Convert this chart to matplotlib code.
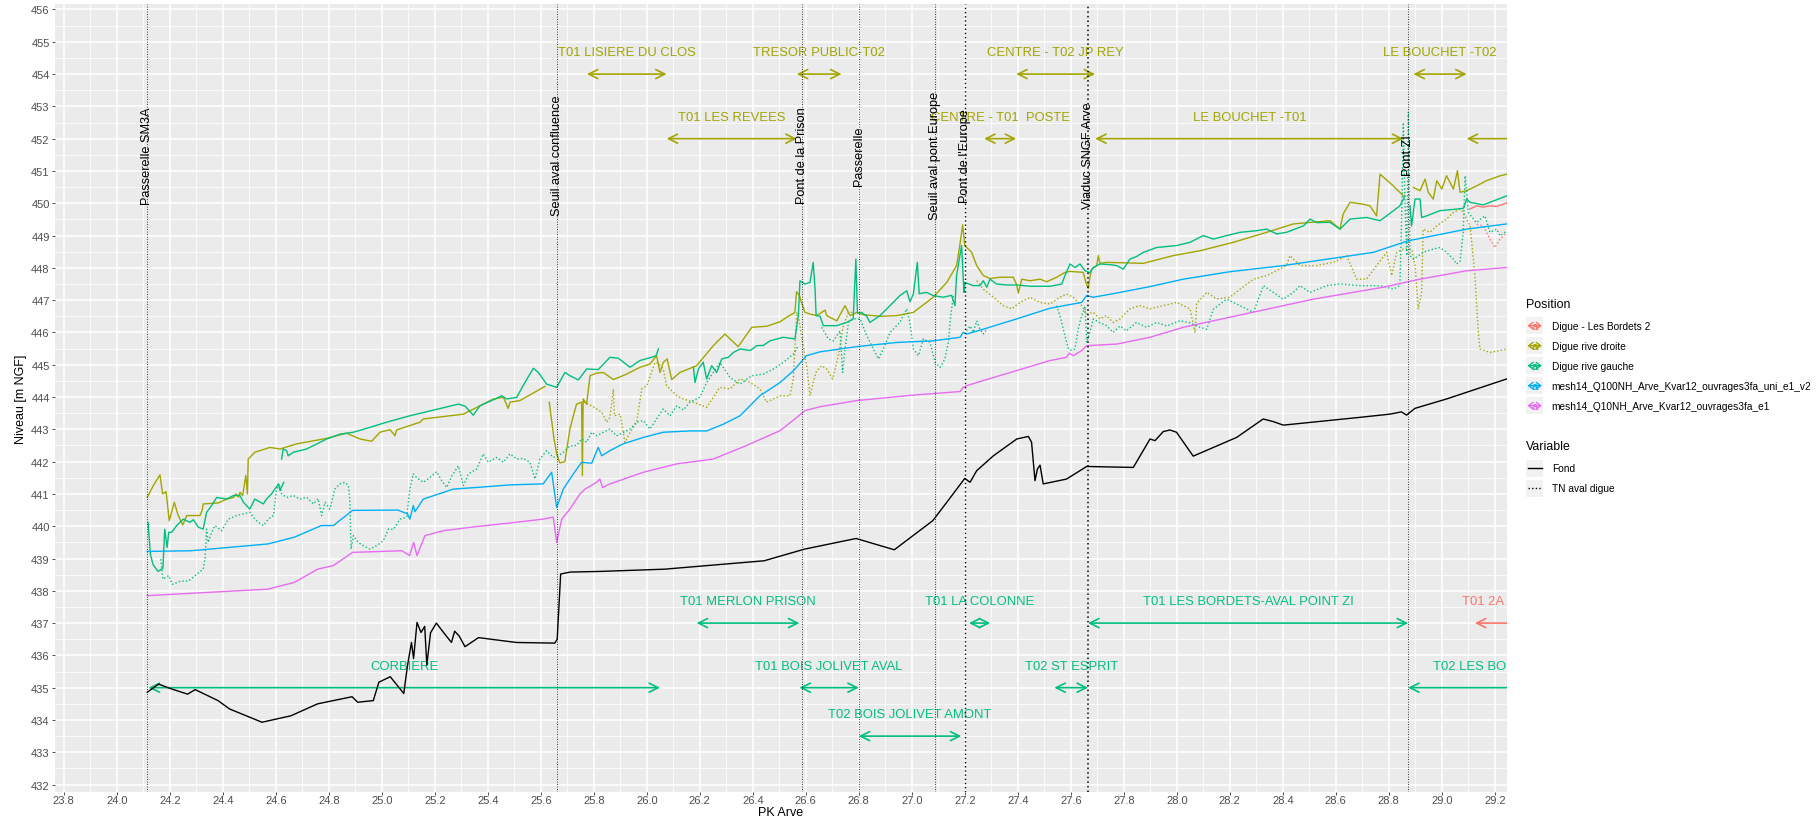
import numpy as np
import matplotlib
matplotlib.use('Agg')
import matplotlib.pyplot as plt
from matplotlib.patches import FancyArrowPatch, Rectangle

plt.rcParams['font.family'] = ['Liberation Sans', 'DejaVu Sans']

RED, OLIVE, GREEN, BLUE, PINK = '#F8766D', '#A3A500', '#00BF7D', '#00B0F6', '#E76BF3'
NA = (None, None)

# ---- profils en long (PK, niveau) ----
fond = [(24.115, 434.86), (24.158, 435.11), (24.2, 434.98), (24.267, 434.8), (24.296, 434.94),
        (24.382, 434.6), (24.426, 434.34), (24.548, 433.93), (24.657, 434.13), (24.758, 434.5),
        (24.888, 434.72), (24.909, 434.55), (24.968, 434.6), (24.989, 435.17), (25.032, 435.34),
        (25.083, 434.82), (25.097, 435.68), (25.112, 436.4), (25.12, 435.9), (25.133, 437.02),
        (25.148, 436.71), (25.162, 436.9), (25.170, 435.7), (25.184, 436.7), (25.206, 437.0),
        (25.234, 436.7), (25.263, 436.4), (25.275, 436.75), (25.292, 436.6), (25.314, 436.27),
        (25.365, 436.55), (25.508, 436.4), (25.653, 436.38), (25.662, 436.5), (25.675, 438.52),
        (25.711, 438.58), (25.823, 438.6), (26.068, 438.67), (26.443, 438.93), (26.595, 439.29),
        (26.79, 439.62), (26.934, 439.27), (27.079, 440.17), (27.132, 440.74), (27.2, 441.48),
        (27.22, 441.36), (27.245, 441.72), (27.308, 442.18), (27.396, 442.7), (27.44, 442.78),
        (27.452, 442.6), (27.465, 441.41), (27.474, 441.77), (27.484, 441.89), (27.496, 441.31),
        (27.584, 441.46), (27.66, 441.85), (27.836, 441.82), (27.899, 442.7), (27.918, 442.65),
        (27.949, 442.93), (27.974, 442.98), (27.999, 442.91), (28.062, 442.17), (28.226, 442.75),
        (28.326, 443.32), (28.364, 443.24), (28.402, 443.13), (28.69, 443.37), (28.804, 443.47),
        (28.848, 443.54), (28.867, 443.44), (28.899, 443.65), (29.018, 443.94), (29.245, 444.56)]

q100 = [(24.115, 439.22), (24.28, 439.24), (24.57, 439.45), (24.67, 439.66), (24.772, 440.02),
        (24.817, 440.02), (24.89, 440.49), (25.061, 440.5), (25.097, 440.38), (25.106, 440.22),
        (25.119, 440.64), (25.125, 440.45), (25.157, 440.84), (25.27, 441.15), (25.358, 441.2),
        (25.484, 441.28), (25.609, 441.31), (25.641, 441.67), (25.66, 440.58), (25.685, 441.15),
        (25.723, 441.62), (25.754, 441.98), (25.792, 441.95), (25.817, 442.44), (25.83, 442.18),
        (25.861, 442.34), (25.911, 442.55), (25.987, 442.75), (26.062, 442.91), (26.163, 442.95),
        (26.226, 442.95), (26.289, 443.16), (26.352, 443.42), (26.427, 444.04), (26.503, 444.45),
        (26.553, 444.81), (26.603, 445.28), (26.654, 445.4), (26.792, 445.56), (26.943, 445.69),
        (27.081, 445.74), (27.182, 445.85), (27.194, 446.0), (27.207, 445.95), (27.27, 446.1),
        (27.396, 446.42), (27.522, 446.75), (27.641, 446.93), (27.66, 447.14), (27.685, 447.09),
        (27.773, 447.22), (27.899, 447.42), (28.025, 447.65), (28.2, 447.88), (28.402, 448.07),
        (28.742, 448.48), (28.874, 448.84), (29.094, 449.2), (29.245, 449.36)]

q10 = [(24.115, 437.85), (24.57, 438.05), (24.67, 438.26), (24.758, 438.67), (24.817, 438.78),
       (24.89, 439.19), (25.076, 439.24), (25.105, 439.09), (25.12, 439.5), (25.133, 439.09),
       (25.163, 439.71), (25.232, 439.86), (25.358, 439.99), (25.484, 440.1), (25.609, 440.22),
       (25.647, 440.28), (25.66, 439.5), (25.679, 440.22), (25.71, 440.53), (25.748, 441.0),
       (25.767, 441.15), (25.811, 441.36), (25.823, 441.46), (25.833, 441.2), (25.861, 441.31),
       (25.987, 441.67), (26.113, 441.93), (26.251, 442.08), (26.377, 442.5), (26.503, 442.96),
       (26.559, 443.32), (26.597, 443.58), (26.654, 443.7), (26.792, 443.89), (27.006, 444.06),
       (27.182, 444.17), (27.194, 444.3), (27.207, 444.35), (27.27, 444.51), (27.396, 444.82),
       (27.522, 445.13), (27.584, 445.23), (27.594, 445.36), (27.61, 445.28), (27.641, 445.44),
       (27.66, 445.59), (27.773, 445.64), (27.899, 445.85), (28.025, 446.16), (28.2, 446.47),
       (28.515, 447.03), (28.779, 447.4), (28.918, 447.65), (29.094, 447.91), (29.245, 448.01)]

rd_crete = [(24.115, 440.89), (24.138, 441.26), (24.163, 441.59), (24.173, 441.0), (24.186, 441.07),
            (24.198, 440.17), (24.217, 440.74), (24.232, 440.33), (24.249, 440.04), (24.264, 440.33),
            (24.314, 440.33), (24.323, 440.51), (24.326, 440.69), (24.383, 440.72), (24.415, 440.84),
            (24.44, 440.89), (24.45, 441.0), (24.46, 440.9), (24.465, 441.05), (24.475, 440.95),
            (24.487, 441.57), (24.493, 441.0), (24.496, 442.08), (24.521, 442.29), (24.578, 442.44),
            (24.616, 442.39), (24.679, 442.55), (24.792, 442.72), (24.867, 442.88), (24.918, 442.7),
            (24.962, 442.63), (24.993, 442.91), (25.031, 442.99), (25.05, 442.8), (25.056, 442.98),
            (25.144, 443.22), (25.157, 443.32), (25.308, 443.47), (25.421, 443.94), (25.459, 443.99),
            (25.477, 443.65), (25.484, 443.84), (25.521, 443.89), (25.616, 444.33), NA,
            (25.632, 443.84), (25.65, 442.7), (25.66, 442.24), (25.672, 441.96), (25.691, 442.0),
            (25.71, 443.01), (25.723, 443.42), (25.735, 443.78), (25.754, 443.84), (25.757, 441.57),
            (25.76, 443.94), (25.773, 443.78), (25.786, 444.66), (25.811, 444.74), (25.836, 444.76),
            (25.874, 444.54), (25.924, 444.71), (25.974, 444.92), (26.012, 445.02), (26.037, 445.28),
            (26.05, 444.76), (26.062, 445.07), (26.077, 445.18), (26.094, 444.54), (26.125, 444.76),
            (26.188, 444.97), (26.251, 445.59), (26.295, 445.95), (26.345, 445.56), (26.396, 446.16),
            (26.452, 446.19), (26.503, 446.33), (26.528, 446.47), (26.559, 446.62), (26.565, 447.26),
            (26.576, 447.14), (26.584, 446.93), (26.597, 446.62), (26.616, 446.57), (26.641, 446.52),
            (26.673, 446.69), (26.679, 446.52), (26.717, 446.36), (26.748, 446.83), (26.767, 446.52),
            (26.792, 446.62), (26.817, 446.55), (26.88, 446.5), (26.943, 446.52), (27.006, 446.62),
            (27.081, 447.09), (27.132, 447.55), (27.169, 448.07), (27.18, 448.63), (27.192, 449.33),
            (27.2, 448.69), (27.226, 448.48), (27.245, 448.07), (27.27, 447.76), (27.295, 447.67),
            (27.333, 447.71), (27.383, 447.71), (27.396, 447.47), (27.402, 447.22), (27.415, 447.65),
            (27.446, 447.6), (27.484, 447.65), (27.509, 447.57), (27.547, 447.71), (27.578, 447.86),
            (27.597, 447.89), (27.647, 447.86), (27.657, 447.55), (27.666, 447.36), (27.672, 447.7),
            (27.679, 447.96), (27.698, 448.07), (27.704, 448.38), (27.71, 448.14), (27.735, 448.17),
            (27.874, 448.14), (27.987, 448.38), (28.088, 448.53), (28.213, 448.79), (28.339, 449.1),
            (28.44, 449.36), (28.578, 449.46), (28.616, 449.2), (28.628, 449.67), (28.654, 450.03),
            (28.704, 449.97), (28.729, 449.92), (28.754, 449.61), (28.767, 450.9), (28.817, 450.54),
            (28.855, 450.23), NA,
            (28.893, 450.49), (28.918, 450.39), (28.937, 450.75), (28.949, 450.34), (28.968, 450.13),
            (28.981, 450.7), (29.0, 450.44), (29.018, 450.85), (29.044, 450.44), (29.059, 451.01),
            (29.069, 450.34), (29.094, 450.39), (29.132, 450.54), (29.169, 450.7), (29.22, 450.85),
            (29.245, 450.9)]

rd_tn = [(25.761, 443.84), (25.792, 443.73), (25.811, 443.63), (25.83, 443.53), (25.849, 443.22),
         (25.861, 443.37), (25.874, 444.25), (25.878, 443.42), (25.899, 443.47), (25.918, 442.6),
         (25.937, 442.91), (25.962, 443.22), (25.981, 444.25), (26.0, 444.35), (26.031, 445.07),
         (26.043, 445.05), (26.062, 444.87), (26.075, 444.35), (26.113, 444.04), (26.138, 443.94),
         (26.176, 443.84), (26.226, 443.68), (26.276, 444.3), (26.314, 444.25), (26.352, 444.56),
         (26.39, 444.45), (26.427, 444.25), (26.452, 443.84), (26.503, 444.04), (26.54, 444.04),
         (26.553, 444.56), (26.566, 446.62), (26.572, 446.5), (26.584, 445.9), (26.603, 444.97),
         (26.616, 444.04), (26.628, 444.45), (26.641, 444.81), (26.66, 444.97), (26.679, 444.87),
         (26.701, 444.56), (26.723, 445.28), (26.742, 446.21), (26.761, 446.62), (26.779, 446.62), NA,
         (27.245, 447.6), (27.27, 447.34), (27.308, 447.09), (27.345, 446.83), (27.377, 446.73),
         (27.408, 446.93), (27.446, 447.09), (27.484, 446.93), (27.522, 446.88), (27.559, 447.09),
         (27.584, 447.19), (27.609, 447.09), (27.641, 446.83), (27.66, 446.57), (27.685, 446.62),
         (27.71, 446.42), (27.735, 446.52), (27.76, 446.31), (27.786, 446.42), (27.823, 446.73),
         (27.861, 446.83), (27.899, 446.73), (27.949, 446.83), (27.999, 446.93), (28.05, 446.73),
         (28.069, 446.0), (28.075, 446.9), (28.113, 447.24), (28.15, 447.04), (28.2, 447.09),
         (28.239, 447.34), (28.289, 447.65), (28.339, 447.76), (28.414, 448.07), (28.427, 448.38),
         (28.465, 448.07), (28.528, 448.07), (28.591, 448.17), (28.641, 448.38), (28.679, 447.65),
         (28.716, 447.65), (28.754, 448.07), (28.792, 448.48), (28.811, 447.76), (28.83, 448.48),
         (28.855, 448.58), (28.886, 448.58), (28.899, 448.1), (28.911, 446.72), (28.924, 447.24),
         (28.93, 449.2), (28.955, 449.1), (28.981, 449.3), (29.018, 449.51), (29.044, 449.72),
         (29.069, 449.82), (29.081, 449.72), (29.107, 449.3), (29.125, 447.76), (29.138, 446.0),
         (29.144, 445.49), (29.182, 445.38), (29.22, 445.44), (29.245, 445.49)]

rg_crete = [(24.118, 440.12), (24.127, 439.12), (24.137, 438.81), (24.156, 438.6), (24.174, 438.7),
            (24.181, 439.91), (24.19, 439.34), (24.196, 439.81), (24.207, 439.81), (24.226, 440.02),
            (24.251, 440.22), (24.276, 440.12), (24.289, 440.2), (24.308, 439.97), (24.326, 439.91),
            (24.339, 440.43), (24.358, 440.64), (24.377, 440.89), (24.415, 440.84), (24.44, 440.95),
            (24.465, 440.95), (24.478, 440.74), (24.502, 440.53), (24.521, 440.84), (24.553, 440.69),
            (24.565, 440.84), (24.584, 441.0), (24.61, 441.31), (24.616, 441.1), (24.63, 441.36), NA,
            (24.622, 442.08), (24.628, 442.39), (24.641, 442.34), (24.647, 442.18), (24.666, 442.29),
            (24.716, 442.39), (24.792, 442.7), (24.842, 442.85), (24.893, 442.91), (24.955, 443.06),
            (25.018, 443.22), (25.106, 443.42), (25.289, 443.78), (25.314, 443.72), (25.345, 443.44),
            (25.371, 443.73), (25.433, 443.96), (25.452, 444.04), (25.471, 443.94), (25.509, 443.99),
            (25.54, 444.45), (25.572, 444.89), (25.591, 444.76), (25.622, 444.4), (25.66, 444.3),
            (25.691, 444.76), (25.71, 444.66), (25.742, 444.53), (25.773, 444.87), (25.817, 444.85),
            (25.861, 445.23), (25.893, 445.2), (25.937, 444.92), (25.974, 445.13), (26.018, 445.23),
            (26.035, 445.28), (26.044, 445.49), NA,
            (26.176, 444.92), (26.182, 444.45), (26.195, 444.87), (26.213, 445.08), (26.226, 444.56),
            (26.245, 444.97), (26.264, 444.76), (26.283, 445.18), (26.308, 445.23), (26.327, 445.38),
            (26.352, 445.49), (26.39, 445.44), (26.415, 445.59), (26.44, 445.6), (26.465, 445.74),
            (26.515, 445.85), (26.559, 445.8), (26.572, 446.52), (26.578, 447.6), (26.597, 447.5),
            (26.616, 447.55), (26.628, 448.17), (26.635, 447.34), (26.639, 446.52), (26.654, 446.5),
            (26.666, 446.21), (26.717, 446.21), (26.754, 446.31), (26.779, 446.42), (26.789, 448.27),
            (26.795, 446.6), (26.81, 446.62), (26.83, 446.5), (26.842, 446.31), (26.88, 446.52),
            (26.918, 446.83), (26.955, 447.14), (26.981, 447.29), (26.993, 446.95), (27.006, 447.19),
            (27.021, 448.17), (27.028, 447.2), (27.056, 447.24), (27.081, 447.14), (27.119, 447.09),
            (27.15, 447.15), (27.163, 446.83), (27.169, 447.76), (27.188, 448.69), (27.197, 447.24),
            (27.2, 447.55), (27.232, 447.45), (27.257, 447.45), (27.27, 447.6), (27.283, 447.4),
            (27.295, 447.65), (27.32, 447.5), (27.358, 447.47), (27.396, 447.47), (27.446, 447.43),
            (27.522, 447.43), (27.566, 447.5), (27.578, 447.76), (27.597, 448.12), (27.616, 448.01),
            (27.635, 448.12), (27.654, 447.91), (27.672, 447.85), (27.685, 448.01), (27.71, 448.12),
            (27.748, 448.1), (27.773, 448.07), (27.798, 447.96), (27.823, 448.27), (27.848, 448.35),
            (27.874, 448.48), (27.924, 448.63), (27.999, 448.69), (28.05, 448.79), (28.1, 449.0),
            (28.138, 448.89), (28.188, 449.0), (28.239, 449.1), (28.301, 449.15), (28.339, 449.2),
            (28.377, 449.05), (28.414, 449.1), (28.478, 449.3), (28.503, 449.51), (28.528, 449.4),
            (28.578, 449.41), (28.616, 449.2), (28.654, 449.51), (28.716, 449.56), (28.767, 449.46),
            (28.792, 449.61), (28.842, 449.92), (28.861, 450.23), NA,
            (28.88, 449.92), (28.886, 449.3), (28.899, 450.13), (28.918, 450.13), (28.924, 449.56),
            (28.943, 449.61), (28.993, 449.77), (29.081, 449.84), (29.094, 450.13), (29.107, 450.03),
            (29.157, 449.95), (29.22, 450.15), (29.245, 450.23)]

rg_tn = [(24.166, 438.98), (24.174, 438.36), (24.196, 438.47), (24.21, 438.2), (24.24, 438.3),
         (24.27, 438.3), (24.3, 438.5), (24.326, 438.67), (24.333, 438.99), (24.339, 439.91),
         (24.345, 439.5), (24.358, 439.81), (24.37, 440.02), (24.396, 439.86), (24.421, 440.22),
         (24.452, 440.33), (24.502, 440.43), (24.515, 440.28), (24.534, 440.12), (24.553, 440.02),
         (24.572, 440.22), (24.591, 440.33), (24.603, 441.15), (24.613, 441.31), (24.622, 441.0),
         (24.641, 440.89), (24.666, 440.95), (24.691, 440.84), (24.716, 440.9), (24.742, 440.69),
         (24.76, 440.85), (24.773, 440.33), (24.786, 440.74), (24.804, 440.53), (24.823, 441.15),
         (24.842, 441.31), (24.861, 441.36), (24.874, 441.26), (24.88, 440.74), (24.884, 439.29),
         (24.893, 439.71), (24.911, 439.5), (24.93, 439.4), (24.955, 439.29), (24.981, 439.4),
         (25.006, 439.55), (25.025, 439.91), (25.044, 439.9), (25.069, 440.22), (25.094, 440.28),
         (25.106, 441.15), (25.119, 441.62), (25.132, 441.5), (25.157, 441.36), (25.182, 441.51),
         (25.207, 441.69), (25.226, 441.41), (25.245, 441.2), (25.264, 441.55), (25.289, 441.87),
         (25.308, 441.26), (25.327, 441.62), (25.358, 441.77), (25.383, 442.24), (25.402, 441.98),
         (25.433, 442.13), (25.459, 441.98), (25.484, 442.24), (25.509, 442.08), (25.534, 442.1),
         (25.559, 441.98), (25.578, 441.46), (25.597, 442.08), (25.622, 442.34), (25.647, 442.13),
         (25.666, 442.18), (25.685, 442.29), (25.71, 442.49), (25.735, 442.5), (25.754, 442.7),
         (25.773, 442.6), (25.792, 442.91), (25.811, 442.8), (25.836, 442.91), (25.861, 443.01),
         (25.886, 442.8), (25.911, 442.9), (25.937, 443.01), (25.962, 443.22), (25.987, 443.27),
         (26.012, 443.01), (26.037, 443.32), (26.062, 443.63), (26.088, 443.42), (26.113, 443.73),
         (26.138, 443.6), (26.163, 443.84), (26.2, 443.99), (26.226, 444.45), (26.276, 445.07),
         (26.314, 444.61), (26.352, 444.4), (26.396, 444.66), (26.44, 444.71), (26.478, 444.87),
         (26.515, 445.07), (26.553, 445.33), (26.572, 445.59), NA,
         (26.66, 446.16), (26.685, 445.8), (26.704, 445.74), (26.729, 446.05), (26.739, 444.76),
         (26.748, 445.49), (26.761, 446.31), (26.779, 446.42), (26.805, 446.42), (26.83, 445.9),
         (26.855, 445.49), (26.874, 445.18), (26.893, 445.49), (26.918, 446.0), (26.955, 446.31),
         (26.981, 446.73), (26.993, 446.31), (27.006, 445.49), (27.025, 445.28), (27.044, 445.8),
         (27.069, 445.69), (27.088, 445.07), (27.107, 444.92), (27.125, 445.18), (27.138, 445.69),
         (27.147, 446.52), (27.157, 447.14), NA,
         (27.207, 446.05), (27.22, 446.2), (27.232, 446.0), (27.245, 446.36), (27.257, 446.1),
         (27.27, 445.95), (27.283, 446.1), NA,
         (27.547, 446.83), (27.559, 446.52), (27.578, 445.9), (27.591, 445.49), (27.603, 445.45),
         (27.616, 445.49), (27.628, 446.1), (27.641, 446.52), (27.654, 446.8), (27.66, 445.69),
         (27.672, 446.0), (27.685, 446.42), (27.71, 446.3), (27.735, 446.21), (27.76, 446.0),
         (27.786, 446.2), (27.81, 446.05), (27.848, 446.31), (27.886, 446.16), (27.924, 446.31),
         (27.962, 446.2), (28.012, 446.36), (28.05, 446.3), (28.088, 446.16), (28.113, 446.1),
         (28.125, 446.4), (28.138, 446.72), (28.188, 447.03), (28.239, 446.83), (28.289, 446.62),
         (28.327, 447.45), (28.364, 447.24), (28.402, 447.03), (28.44, 447.24), (28.465, 447.45),
         (28.503, 447.24), (28.566, 447.45), (28.616, 447.5), (28.691, 447.45), (28.767, 447.45),
         (28.817, 447.34), (28.842, 447.45), (28.849, 449.72), (28.855, 452.5), (28.861, 450.0),
         (28.868, 448.38), (28.874, 452.81), (28.88, 448.38), (28.893, 448.27), (28.93, 448.48),
         (28.968, 448.58), (28.993, 448.63), (29.018, 448.48), (29.044, 448.27), (29.056, 448.12),
         (29.069, 448.2), (29.081, 449.1), (29.088, 450.85), (29.094, 450.34), (29.1, 449.72),
         (29.13, 449.4), (29.163, 449.61), (29.182, 449.1), (29.207, 449.2), (29.22, 448.99),
         (29.245, 449.15)]

bordets_crete = [(29.106, 449.82), (29.132, 449.92), (29.156, 449.88), (29.182, 449.92),
                 (29.206, 449.9), (29.245, 450.01)]
bordets_tn = [(29.132, 449.35), (29.157, 449.3), (29.182, 448.89), (29.2, 448.63),
              (29.22, 448.89), (29.245, 449.1)]

# ---- ouvrages (lignes verticales) ----
ouvrage_pk = [24.115, 25.663, 26.585, 26.8, 27.089, 27.2, 27.665, 28.874]
ouvrage_nom = ['Passerelle SM3A', 'Seuil aval confluence', 'Pont de la Prison', 'Passerelle',
               'Seuil aval pont Europe', "Pont de l'Europe", 'Viaduc SNGF Arve', 'Pont ZI']
ouvrage_lw = [0.6, 0.6, 0.6, 0.6, 0.6, 1.0, 1.1, 0.6]

# ---- troncons de digue (nom, debut, fin, niveau) ----
troncon_rd = [('T01 LISIERE DU CLOS', 25.774, 26.075, 454), ('TRESOR PUBLIC-T02', 26.566, 26.735, 454),
              ('CENTRE - T02 JP REY', 27.394, 27.692, 454), ('LE BOUCHET -T02', 28.893, 29.094, 454),
              ('T01 LES REVEES', 26.075, 26.566, 452), ('CENTRE - T01  POSTE', 27.273, 27.394, 452),
              ('LE BOUCHET -T01', 27.692, 28.855, 452), ('', 29.094, 29.6, 452)]
troncon_rg = [('T01 MERLON PRISON', 26.188, 26.576, 437), ('T01 LA COLONNE', 27.216, 27.296, 437),
              ('T01 LES BORDETS-AVAL POINT ZI', 27.665, 28.873, 437), ('CORBIERE', 24.12, 26.05, 435),
              ('T01 BOIS JOLIVET AVAL', 26.576, 26.8, 435), ('T02 ST ESPRIT', 27.538, 27.665, 435),
              ('T02 BOIS JOLIVET AMONT', 26.8, 27.187, 433.5), ('', 28.873, 29.6, 435)]
troncon_bordets = [('', 29.125, 29.6, 437)]
# labels partly cut by the panel edge (left aligned)
coupe_txt = [('T02 LES BORDETS', 28.968, 435, GREEN), ('T01 2A', 29.078, 437, RED)]

x_ticks = np.round(np.arange(23.8, 29.21, 0.2), 1)
y_ticks = np.arange(432, 457, 1)

fig = plt.figure(figsize=(18.2, 8.2), dpi=100)
W, H = 1820, 820
ax = fig.add_axes([54.5 / W, 1 - 793 / H, (1506.7 - 54.5) / W, (793 - 5) / H])
ax.set_facecolor('#EBEBEB')
for s in ax.spines.values():
    s.set_visible(False)
ax.set_xlim(23.765, 29.245)
ax.set_ylim(431.77, 456.17)
ax.set_xticks(x_ticks)
ax.set_xticklabels([f'{v:.1f}' for v in x_ticks])
ax.set_xticks(x_ticks[:-1] + 0.1, minor=True)
ax.set_yticks(y_ticks)
ax.set_yticks(y_ticks[:-1] + 0.5, minor=True)
ax.tick_params(which='major', labelsize=8, labelcolor='#4D4D4D', color='#333333', length=2.5, width=0.6, pad=1)
ax.tick_params(axis='x', pad=0)
ax.tick_params(which='minor', length=0)
ax.grid(which='major', color='white', lw=1.1)
ax.grid(which='minor', color='white', lw=0.55)
ax.set_axisbelow(True)
ax.set_xlabel('PK Arve', fontsize=9, va='center')
ax.xaxis.set_label_coords(0.5, -0.0255)
ax.set_ylabel('Niveau [m NGF]', fontsize=9, labelpad=3)

DOT = (0, (1, 1.6))


def trace(pts, color, ls='-'):
    a = np.array(pts, dtype=float)
    ax.plot(a[:, 0], a[:, 1], color=color, lw=1.0, ls=ls, zorder=4)


trace(bordets_crete, RED)
trace(bordets_tn, RED, DOT)
trace(rd_crete, OLIVE)
trace(rd_tn, OLIVE, DOT)
trace(rg_crete, GREEN)
trace(rg_tn, GREEN, DOT)
trace(q100, BLUE)
trace(q10, PINK)
trace(fond, 'black')

for pk, nom, lw in zip(ouvrage_pk, ouvrage_nom, ouvrage_lw):
    ax.axvline(pk, color='black', lw=lw, ls=(0, (1, 2)), zorder=5)
    ax.text(pk, 451.5, nom, rotation=90, ha='center', va='center', fontsize=9.2, zorder=6)


def fleche(x0, x1, y, color):
    p = FancyArrowPatch((x0, y), (x1, y), arrowstyle='<->,head_length=0.5,head_width=0.25',
                        mutation_scale=13, lw=1.2, color=color, shrinkA=0, shrinkB=0, zorder=3)
    ax.add_patch(p)


for liste, col in [(troncon_rd, OLIVE), (troncon_rg, GREEN), (troncon_bordets, RED)]:
    for nom, x0, x1, y in liste:
        fleche(x0, x1, y, col)
        if nom:
            ax.text((x0 + x1) / 2, y + 0.68, nom, color=col, fontsize=9.4,
                    ha='center', va='center', zorder=3)
for nom, x0, y, col in coupe_txt:
    ax.text(x0, y + 0.68, nom, color=col, fontsize=9.4, ha='left', va='center',
            clip_on=True, zorder=3)

# ---- legend (drawn in figure pixels) ----
lg = fig.add_axes([0, 0, 1, 1])
lg.set_xlim(0, W)
lg.set_ylim(H, 0)
lg.axis('off')
pos_noms = ['Digue - Les Bordets 2', 'Digue rive droite', 'Digue rive gauche',
            'mesh14_Q100NH_Arve_Kvar12_ouvrages3fa_uni_e1_v2', 'mesh14_Q10NH_Arve_Kvar12_ouvrages3fa_e1']
pos_cols = [RED, OLIVE, GREEN, BLUE, PINK]
lg.text(1526, 305, 'Position', fontsize=8.9, va='center', ha='left')
for i, (nom, col) in enumerate(zip(pos_noms, pos_cols)):
    yc = 326.7 + 20 * i
    lg.add_patch(Rectangle((1526, yc - 8.6), 17.3, 17.2, color='#F2F2F2', lw=0))
    lg.add_patch(FancyArrowPatch((1527.5, yc), (1541.8, yc), arrowstyle='<->,head_length=0.4,head_width=0.3',
                                 mutation_scale=8, lw=1.0, color=col, shrinkA=0, shrinkB=0))
    lg.text(1534.6, yc + 0.5, 'a', color=col, fontsize=8, fontweight='bold', ha='center', va='center')
    lg.text(1551.7, yc, nom, fontsize=7.3, va='center', ha='left')
lg.text(1526, 446.7, 'Variable', fontsize=8.9, va='center', ha='left')
for i, (nom, ls) in enumerate([('Fond', '-'), ('TN aval digue', DOT)]):
    yc = 469.3 + 20 * i
    lg.add_patch(Rectangle((1526, yc - 8.6), 17.3, 17.2, color='#F2F2F2', lw=0))
    lg.plot([1527.5, 1541.8], [yc, yc], color='black', lw=1.0, ls=ls)
    lg.text(1551.7, yc, nom, fontsize=7.3, va='center', ha='left')

fig.savefig('out.png', dpi=100)
